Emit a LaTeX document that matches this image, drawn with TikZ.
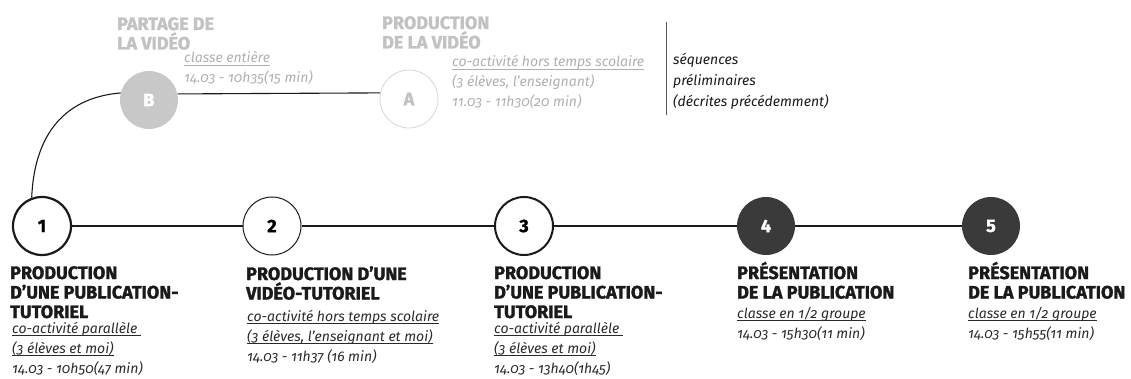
\documentclass[tikz,border=0pt]{standalone}
\usepackage{fontspec}
\newfontfamily\headfam[BoldFeatures={FakeBold=1.5}]{Fira Sans}
\newfontfamily\itfam[Numbers=OldStyle]{Fira Sans}
\newcommand\headfont{\headfam\bfseries}
\newcommand\itfont{\itfam\itshape}
\newcommand\mlines[1]{\vtop{\lineskiplimit=-100pt\halign{##\hfil\cr#1\crcr}}}
\newcommand\ul[1]{\setbox0\hbox{#1}\rlap{\rule[-2.6pt]{\wd0}{0.6pt}}\box0}
\definecolor{ink}{HTML}{1A1A1A}
\definecolor{itink}{HTML}{2A2A2A}
\definecolor{dark}{HTML}{3A3A3A}
\definecolor{lightfill}{HTML}{C8C8C8}
\definecolor{grayhead}{HTML}{C2C2C2}
\definecolor{grayit}{HTML}{B0B0B0}
\definecolor{grayring}{HTML}{D6D6D6}
\definecolor{rulegray}{HTML}{555555}
\begin{document}
\begin{tikzpicture}[x=1pt,y=-1pt,
  station/.style={circle,minimum size=58pt,inner sep=0pt,font=\headfont\fontsize{18}{18}\selectfont},
  conn/.style={draw=ink,line width=1.1pt},
  headtxt/.style={anchor=base west,inner sep=0pt,font=\headfont\fontsize{18}{19.5}\selectfont,text=ink},
  ittxt/.style={anchor=base west,inner sep=0pt,font=\itfont\fontsize{14}{20}\selectfont,text=itink}]
\useasboundingbox (0,0) rectangle (1131,379);
% stations
\node[station,draw=ink,line width=2.2pt] (n1) at (42,226) {1};
\node[station,draw=ink,line width=1pt] (n2) at (272,226) {2};
\node[station,draw=ink,line width=2pt] (n3) at (524,226) {3};
\node[station,fill=dark,text=white] (n4) at (766,226) {4};
\node[station,fill=dark,text=white] (n5) at (991,226) {5};
\node[station,fill=lightfill,text=white] (B) at (149,100) {B};
\node[station,draw=grayring,line width=0.8pt,text=grayhead] (A) at (409,99) {A};
% connectors
\draw[conn] (n1) -- (n2);
\draw[conn] (n2) -- (n3);
\draw[conn] (n3) -- (n4);
\draw[conn] (n4) -- (n5);
\draw[conn] (B.12) -- (A.168);
\draw[conn] (n1.110) .. controls (34,140) and (60,98) .. (B.166);
% separator
\coordinate (r1) at (666,22);
\coordinate (r2) at (666,115);
\draw[draw=rulegray,line width=0.8pt] (r1) -- (r2);
% bottom labels
\node[headtxt] (h1) at (10,279) {\mlines{PRODUCTION\cr D’UNE PUBLICATION-\cr TUTORIEL}};
\node[ittxt] (d1) at (12,333) {\mlines{\ul{co-activité parallèle\ }\cr \ul{(3 élèves et moi)}\cr 14.03 - 10h50(47 min)}};
\node[headtxt] (h2) at (246,280) {\mlines{PRODUCTION D’UNE\cr VIDÉO-TUTORIEL}};
\node[ittxt] (d2) at (247,321) {\mlines{\ul{co-activité hors temps scolaire}\cr \ul{(3 élèves, l’enseignant et moi)}\cr 14.03 - 11h37 (16 min)}};
\node[headtxt] (h3) at (494,279) {\mlines{PRODUCTION\cr D’UNE PUBLICATION-\cr TUTORIEL}};
\node[ittxt] (d3) at (494,333) {\mlines{\ul{co-activité parallèle\ }\cr \ul{(3 élèves et moi)}\cr 14.03 - 13h40(1h45)}};
\node[headtxt] (h4) at (737,279) {\mlines{PRÉSENTATION\cr DE LA PUBLICATION}};
\node[ittxt] (d4) at (737,318) {\mlines{\ul{classe en 1/2 groupe}\cr 14.03 - 15h30(11 min)}};
\node[headtxt] (h5) at (968,279) {\mlines{PRÉSENTATION\cr DE LA PUBLICATION}};
\node[ittxt] (d5) at (968,318) {\mlines{\ul{classe en 1/2 groupe}\cr 14.03 - 15h55(11 min)}};
% top labels
\node[headtxt,text=grayhead] (hB) at (117,30) {\mlines{PARTAGE DE\cr LA VIDÉO}};
\node[ittxt,text=grayit] (dB) at (184,63) {\mlines{\ul{classe entière}\cr 14.03 - 10h35(15 min)}};
\node[headtxt,text=grayhead] (hA) at (382,29) {\mlines{PRODUCTION\cr DE LA VIDÉO}};
\node[ittxt,text=grayit] (dA) at (452,67) {\mlines{\ul{co-activité hors temps scolaire}\cr (3 élèves, l’enseignant)\cr 11.03 - 11h30(20 min)}};
\node[ittxt,text=ink,font=\itfont\fontsize{14}{21}\selectfont] (note) at (673,65) {\mlines{séquences\cr préliminaires\cr (décrites précédemment)}};
\end{tikzpicture}
\end{document}
